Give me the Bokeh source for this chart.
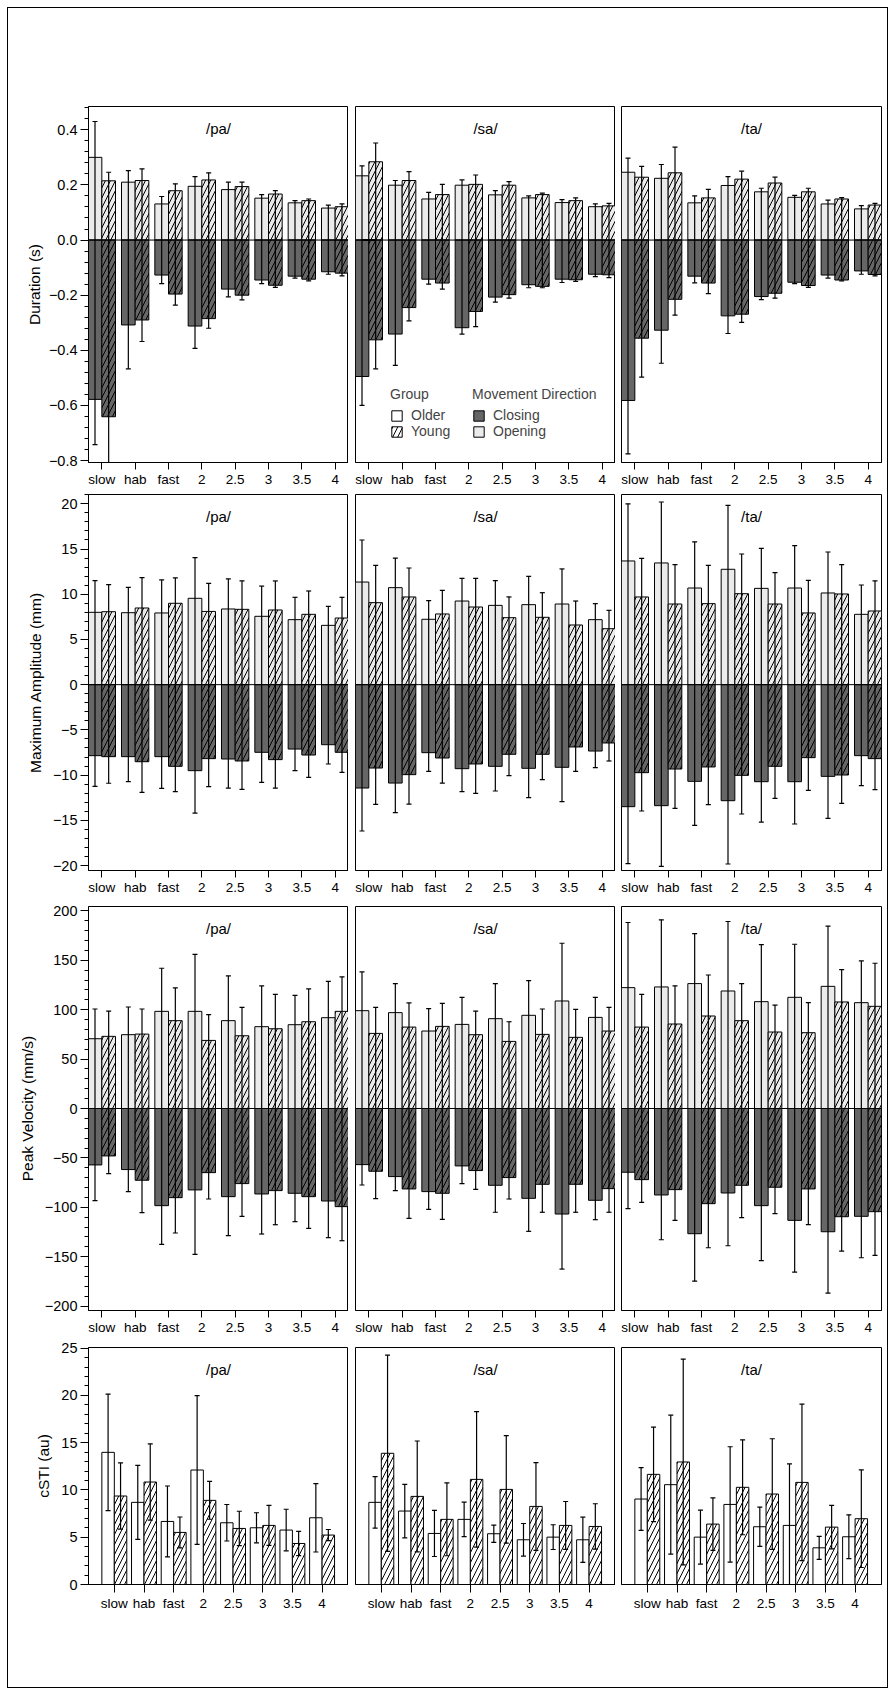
import json
from bokeh.plotting import figure
from bokeh.layouts import column, row
from bokeh.models import (ColumnDataSource, Range1d, FixedTicker, SingleIntervalTicker,
                          CustomJSTickFormatter, Span, Label, Legend, LegendItem, Title)
from bokeh.embed import file_html
from bokeh.resources import INLINE

# ---------------- data ----------------
categories = ["slow", "hab", "fast", "2", "2.5", "3", "3.5", "4"]
syllables = ["/pa/", "/sa/", "/ta/"]

# Duration (s): rows = /pa/, /sa/, /ta/
dur_open_old = [[0.30, 0.21, 0.131, 0.195, 0.183, 0.152, 0.135, 0.116],
                [0.233, 0.199, 0.149, 0.199, 0.164, 0.153, 0.136, 0.121],
                [0.246, 0.224, 0.135, 0.198, 0.175, 0.155, 0.131, 0.113]]
dur_open_old_sd = [[0.13, 0.042, 0.027, 0.035, 0.027, 0.013, 0.008, 0.011],
                   [0.036, 0.017, 0.024, 0.019, 0.015, 0.007, 0.011, 0.010],
                   [0.051, 0.050, 0.025, 0.032, 0.013, 0.007, 0.014, 0.012]]
dur_open_young = [[0.215, 0.216, 0.179, 0.218, 0.194, 0.167, 0.143, 0.121],
                  [0.284, 0.216, 0.165, 0.202, 0.199, 0.165, 0.143, 0.124],
                  [0.228, 0.244, 0.153, 0.221, 0.207, 0.175, 0.149, 0.127]]
dur_open_young_sd = [[0.031, 0.042, 0.025, 0.026, 0.016, 0.012, 0.006, 0.010],
                     [0.068, 0.032, 0.037, 0.034, 0.013, 0.005, 0.010, 0.009],
                     [0.039, 0.093, 0.031, 0.029, 0.021, 0.013, 0.005, 0.006]]
dur_close_old = [[-0.578, -0.308, -0.127, -0.312, -0.178, -0.145, -0.131, -0.115],
                 [-0.495, -0.341, -0.142, -0.318, -0.207, -0.162, -0.142, -0.124],
                 [-0.582, -0.327, -0.131, -0.275, -0.205, -0.153, -0.127, -0.112]]
dur_close_old_sd = [[0.164, 0.159, 0.031, 0.081, 0.028, 0.013, 0.007, 0.009],
                    [0.105, 0.114, 0.018, 0.023, 0.018, 0.011, 0.012, 0.009],
                    [0.194, 0.120, 0.024, 0.064, 0.011, 0.005, 0.011, 0.012]]
dur_close_young = [[-0.641, -0.29, -0.196, -0.285, -0.20, -0.164, -0.142, -0.12],
                   [-0.362, -0.245, -0.156, -0.259, -0.198, -0.168, -0.144, -0.126],
                   [-0.356, -0.215, -0.156, -0.269, -0.193, -0.165, -0.145, -0.125]]
dur_close_young_sd = [[0.22, 0.078, 0.040, 0.035, 0.017, 0.008, 0.006, 0.010],
                      [0.105, 0.048, 0.022, 0.055, 0.013, 0.005, 0.006, 0.010],
                      [0.141, 0.057, 0.038, 0.030, 0.018, 0.007, 0.003, 0.005]]

# Maximum Amplitude (mm)
amp_open_old = [[8.0, 7.96, 7.93, 9.55, 8.37, 7.56, 7.19, 6.56],
                [11.35, 10.73, 7.23, 9.25, 8.77, 8.85, 8.92, 7.19],
                [13.68, 13.46, 10.69, 12.76, 10.65, 10.69, 10.14, 7.78]]
amp_open_old_sd = [[3.5, 2.8, 3.65, 4.5, 3.32, 3.34, 2.47, 2.1],
                   [4.65, 3.27, 2.06, 2.51, 2.73, 3.13, 3.88, 1.77],
                   [6.32, 6.74, 5.11, 7.07, 4.43, 4.68, 4.53, 3.24]]
amp_open_young = [[8.07, 8.48, 9.0, 8.1, 8.33, 8.26, 7.78, 7.37],
                  [9.07, 9.7, 7.82, 8.59, 7.41, 7.45, 6.6, 6.19],
                  [9.7, 8.92, 8.96, 10.06, 8.92, 7.93, 10.03, 8.15]]
amp_open_young_sd = [[2.99, 3.35, 2.8, 3.1, 3.14, 3.21, 2.58, 2.29],
                     [4.13, 3.2, 2.61, 3.17, 2.29, 2.72, 2.65, 2.03],
                     [4.27, 4.35, 4.24, 4.39, 3.47, 3.61, 3.24, 3.32]]
amp_close_old = [[-7.85, -7.96, -7.96, -9.51, -8.22, -7.48, -7.12, -6.64],
                 [-11.43, -10.88, -7.52, -9.29, -9.03, -9.25, -9.14, -7.34],
                 [-13.49, -13.38, -10.69, -12.83, -10.73, -10.73, -10.14, -7.85]]
amp_close_old_sd = [[3.39, 2.77, 3.51, 4.69, 3.21, 3.32, 2.39, 2.13],
                    [4.75, 3.28, 2.07, 2.54, 2.73, 3.25, 3.8, 1.84],
                    [6.31, 6.72, 4.87, 7.0, 4.46, 4.68, 4.64, 3.32]]
amp_close_young = [[-7.96, -8.52, -9.03, -8.18, -8.44, -8.29, -7.78, -7.48],
                   [-9.22, -9.95, -8.11, -8.77, -7.7, -7.7, -6.89, -6.45],
                   [-9.73, -9.33, -9.1, -10.03, -9.03, -8.07, -9.99, -8.18]]
amp_close_young_sd = [[2.94, 3.38, 2.8, 3.1, 3.14, 3.14, 2.47, 2.22],
                      [4.02, 3.25, 2.77, 3.25, 2.36, 2.8, 2.7, 1.99],
                      [4.24, 4.35, 4.17, 4.27, 3.54, 3.62, 3.13, 3.43]]

# Peak Velocity (mm/s)
vel_open_old = [[70.6, 74.7, 98.3, 98.3, 88.9, 82.8, 84.8, 91.9],
                [99.0, 97.0, 78.4, 85.1, 90.9, 94.3, 108.8, 92.2],
                [122.3, 123.0, 126.4, 118.9, 108.1, 112.5, 123.6, 107.1]]
vel_open_old_sd = [[30.1, 28.0, 43.6, 57.7, 45.2, 41.2, 29.7, 36.8],
                   [39.2, 29.4, 22.6, 27.4, 35.5, 35.1, 58.4, 20.3],
                   [65.9, 67.9, 50.6, 70.3, 57.8, 53.7, 60.9, 42.2]]
vel_open_young = [[73.0, 75.3, 88.9, 68.9, 73.6, 80.7, 87.8, 98.3],
                  [76.0, 82.4, 83.1, 74.7, 67.9, 75.0, 72.0, 78.4],
                  [82.4, 85.5, 93.6, 88.9, 77.4, 76.7, 107.8, 103.4]]
vel_open_young_sd = [[25.6, 25.4, 33.1, 26.0, 28.8, 34.8, 33.2, 34.8],
                     [26.4, 24.4, 23.3, 23.9, 19.9, 25.7, 28.3, 24.0],
                     [33.1, 38.5, 41.5, 37.5, 27.3, 30.4, 32.7, 43.6]]
vel_close_old = [[-57.1, -61.8, -98.3, -82.4, -89.2, -86.5, -85.8, -93.6],
                 [-56.8, -68.9, -84.1, -58.1, -77.7, -90.9, -106.8, -92.9],
                 [-64.5, -87.5, -126.7, -85.5, -98.3, -113.2, -124.7, -109.1]]
vel_close_old_sd = [[36.1, 22.3, 39.2, 65.2, 39.5, 40.5, 28.7, 37.1],
                    [20.6, 14.2, 17.9, 17.9, 27.3, 33.4, 55.7, 19.6],
                    [36.9, 45.3, 48.0, 53.4, 55.7, 52.3, 62.1, 41.9]]
vel_close_young = [[-48.0, -72.6, -90.2, -64.9, -76.0, -83.1, -89.2, -99.3],
                   [-63.5, -81.4, -85.8, -62.8, -69.9, -76.7, -76.7, -81.1],
                   [-72.0, -82.1, -96.3, -77.7, -79.7, -81.4, -109.5, -104.4]]
vel_close_young_sd = [[17.9, 32.8, 35.8, 26.7, 33.1, 34.5, 32.1, 34.5],
                      [27.7, 29.7, 26.4, 19.0, 21.7, 28.3, 28.3, 23.9],
                      [22.9, 31.1, 44.6, 32.8, 26.7, 36.2, 34.8, 44.2]]

# cSTI (au)
csti_old = [[13.98, 8.69, 6.67, 12.11, 6.53, 6.0, 5.76, 7.06],
            [8.69, 7.77, 5.4, 6.89, 5.37, 4.73, 5.01, 4.73],
            [9.04, 10.56, 5.01, 8.47, 6.11, 6.25, 3.88, 5.05]]
csti_old_sd = [[6.16, 3.92, 3.75, 7.86, 1.93, 1.59, 2.2, 3.62],
               [2.72, 2.83, 2.44, 1.82, 0.92, 1.72, 1.31, 2.39],
               [3.32, 7.35, 2.85, 6.1, 2.08, 6.5, 1.22, 2.32]]
csti_young = [[9.36, 10.84, 5.51, 8.9, 5.93, 6.25, 4.34, 5.23],
              [13.88, 9.32, 6.89, 11.12, 10.06, 8.26, 6.25, 6.14],
              [11.65, 12.96, 6.39, 10.28, 9.57, 10.8, 6.07, 6.96]]
csti_young_sd = [[3.5, 4.03, 1.63, 2.0, 1.82, 2.12, 1.29, 0.59],
                 [10.38, 5.86, 3.85, 7.17, 5.69, 4.64, 2.53, 2.4],
                 [5.0, 10.89, 2.77, 5.02, 5.85, 8.27, 2.3, 5.16]]

# ---------------- style / layout ----------------
FONT = "Liberation Sans"
LIGHT = "#ebebeb"
DARK = "#666666"
HATCH = dict(hatch_pattern="/", hatch_color="black", hatch_scale=10, hatch_weight=1)
TICK_FS = "14.5px"
XTICK_FS = "13.5px"
LABEL_FS = "15.5px"
TITLE_FS = "15px"

positions = list(range(1, len(categories) + 1))
X_CODE = ("const L = %s; const i = Math.round(tick) - 1;"
          " return (i >= 0 && i < L.length) ? L[i] : '';") % json.dumps(categories)

COL_W = [340, 267, 272]
COL_BL = [80, 7, 6]
COL_BR = [0, 0, 6]


def base_fig(c, height, mbt, mbb, xr, yr, ylabel, step, dec, label_shift=0):
    show_y = (c == 0)
    p = figure(width=COL_W[c], height=height,
               x_range=Range1d(*xr), y_range=Range1d(*yr),
               output_backend="svg", toolbar_location=None, title=None,
               y_axis_location="left" if show_y else None,
               min_border_left=COL_BL[c], min_border_right=COL_BR[c],
               min_border_top=mbt, min_border_bottom=mbb)
    p.grid.visible = False
    p.outline_line_color = "black"
    p.outline_line_width = 1
    p.background_fill_color = "white"
    p.border_fill_color = "white"

    ax = p.xaxis[0]
    ax.ticker = FixedTicker(ticks=positions, minor_ticks=[])
    ax.formatter = CustomJSTickFormatter(code=X_CODE)
    ax.major_tick_out = 7
    ax.major_tick_in = 0
    ax.major_tick_line_color = "black"
    ax.minor_tick_line_color = None
    ax.axis_line_color = "black"
    ax.major_label_text_font = FONT
    ax.major_label_text_font_size = XTICK_FS
    ax.major_label_text_color = "black"
    ax.major_label_standoff = 2

    if show_y:
        ay = p.yaxis[0]
        ay.ticker = SingleIntervalTicker(interval=step, num_minor_ticks=5)
        ay.formatter = CustomJSTickFormatter(
            code="return tick.toFixed(%d).replace('-', '\\u2212');" % dec)
        ay.major_tick_out = 8
        ay.major_tick_in = 0
        ay.minor_tick_out = 4
        ay.minor_tick_in = 0
        ay.major_tick_line_color = "black"
        ay.minor_tick_line_color = "black"
        ay.axis_line_color = "black"
        ay.major_label_text_font = FONT
        ay.major_label_text_font_size = TICK_FS
        ay.major_label_text_color = "black"
        ay.major_label_standoff = 3
        if label_shift:
            # the reference draws this axis title above the frame centre:
            # use a side Title, which can be offset along the axis
            p.add_layout(Title(text=ylabel, align="center", offset=label_shift,
                               standoff=6, text_font=FONT, text_font_size=LABEL_FS,
                               text_font_style="normal", text_color="black"), "left")
        else:
            ay.axis_label = ylabel
            ay.axis_label_text_font = FONT
            ay.axis_label_text_font_size = LABEL_FS
            ay.axis_label_text_font_style = "normal"
            ay.axis_label_text_color = "black"
            ay.axis_label_standoff = 6
    return p


def add_title(p, text, xr, frame_h):
    p.add_layout(Label(x=(xr[0] + xr[1]) / 2, y=frame_h - 22, y_units="screen",
                       text=text, text_align="center", text_baseline="middle",
                       text_font=FONT, text_font_size=TITLE_FS, text_color="black"))


def add_err(p, src, xcol, ycol0, ycol1):
    p.segment(x0=xcol, y0=ycol0, x1=xcol, y1=ycol1, source=src,
              line_color="black", line_width=1.2)
    p.scatter(x=xcol, y=ycol1, marker="dash", size=5, source=src,
              line_color="black", line_width=1.2)


measures = [
    dict(label="Duration (s)", yr=(-0.807, 0.4845), step=0.2, dec=1,
         h=484, t=98, b=30, label_shift=31,
         data=(dur_open_old, dur_open_old_sd, dur_open_young, dur_open_young_sd,
               dur_close_old, dur_close_old_sd, dur_close_young, dur_close_young_sd)),
    dict(label="Maximum Amplitude (mm)", yr=(-20.55, 21.03), step=5, dec=0,
         h=408, t=2, b=30, label_shift=0,
         data=(amp_open_old, amp_open_old_sd, amp_open_young, amp_open_young_sd,
               amp_close_old, amp_close_old_sd, amp_close_young, amp_close_young_sd)),
    dict(label="Peak Velocity (mm/s)", yr=(-204.4, 204.4), step=50, dec=0,
         h=440, t=6, b=30, label_shift=0,
         data=(vel_open_old, vel_open_old_sd, vel_open_young, vel_open_young_sd,
               vel_close_old, vel_close_old_sd, vel_close_young, vel_close_young_sd)),
]

BW = 0.41
XR = (0.6, 8.4)
rows = []
for mi, m in enumerate(measures):
    oo, oos, oy, oys, co, cos, cy, cys = m["data"]
    frame_h = m["h"] - m["t"] - m["b"]
    figs = []
    for j, syl in enumerate(syllables):
        p = base_fig(j, m["h"], m["t"], m["b"], XR, m["yr"], m["label"], m["step"], m["dec"],
                     m["label_shift"])
        src = ColumnDataSource(dict(
            xo=[k - BW / 2 for k in positions], xy=[k + BW / 2 for k in positions],
            oo=oo[j], oy=oy[j], co=co[j], cy=cy[j],
            oo_hi=[a + s for a, s in zip(oo[j], oos[j])],
            oy_hi=[a + s for a, s in zip(oy[j], oys[j])],
            co_lo=[a - s for a, s in zip(co[j], cos[j])],
            cy_lo=[a - s for a, s in zip(cy[j], cys[j])],
            zero=[0] * len(positions),
        ))
        p.vbar(x="xo", top="oo", bottom=0, width=BW, source=src,
               fill_color=LIGHT, line_color="black", line_width=1)
        p.vbar(x="xy", top="oy", bottom=0, width=BW, source=src,
               fill_color=LIGHT, line_color="black", line_width=1, **HATCH)
        p.vbar(x="xo", top=0, bottom="co", width=BW, source=src,
               fill_color=DARK, line_color="black", line_width=1)
        p.vbar(x="xy", top=0, bottom="cy", width=BW, source=src,
               fill_color=DARK, line_color="black", line_width=1, **HATCH)
        p.add_layout(Span(location=0, dimension="width", line_color="black", line_width=1))
        add_err(p, src, "xo", "zero", "oo_hi")
        add_err(p, src, "xy", "zero", "oy_hi")
        add_err(p, src, "xo", "zero", "co_lo")
        add_err(p, src, "xy", "zero", "cy_lo")
        add_title(p, syl, XR, frame_h)

        if mi == 0 and j == 1:
            # zero-height proxy bars (sitting on the zero line) used only as legend glyphs
            proxy = ColumnDataSource(dict(x=positions[:1], zero=[0]))
            kw = dict(x="x", top="zero", bottom="zero", width=BW, source=proxy, line_color="black")
            r_old = p.vbar(fill_color="white", **kw)
            r_young = p.vbar(fill_color="white", **kw, **HATCH)
            r_close = p.vbar(fill_color=DARK, **kw)
            r_open = p.vbar(fill_color=LIGHT, **kw)
            for title, items, loc in (
                    ("Group", [("Older", r_old), ("Young", r_young)], (35, 23)),
                    ("Movement Direction", [("Closing", r_close), ("Opening", r_open)], (117, 23))):
                leg = Legend(items=[LegendItem(label=lab, renderers=[r]) for lab, r in items],
                             title=title, location=loc, orientation="vertical",
                             padding=0, margin=0, spacing=0,
                             glyph_width=13, glyph_height=13, label_height=13,
                             label_standoff=8, title_standoff=5,
                             border_line_color=None, background_fill_alpha=0,
                             label_text_font=FONT, label_text_font_size="14px",
                             title_text_font=FONT, title_text_font_size="14px",
                             title_text_font_style="normal")
                p.add_layout(leg)
        figs.append(p)
    rows.append(row(*figs))

# cSTI row
BW4 = 0.42
XR4 = (0.13, 8.89)
H4, T4, B4 = 347, 7, 103
figs = []
for j, syl in enumerate(syllables):
    p = base_fig(j, H4, T4, B4, XR4, (0, 25.07), "cSTI (au)", 5, 0)
    p.xaxis[0].major_tick_out = 8
    p.xaxis[0].major_label_standoff = 3
    src = ColumnDataSource(dict(
        xo=[k - BW4 / 2 for k in positions], xy=[k + BW4 / 2 for k in positions],
        old=csti_old[j], young=csti_young[j],
        old_lo=[a - s for a, s in zip(csti_old[j], csti_old_sd[j])],
        old_hi=[a + s for a, s in zip(csti_old[j], csti_old_sd[j])],
        young_lo=[a - s for a, s in zip(csti_young[j], csti_young_sd[j])],
        young_hi=[a + s for a, s in zip(csti_young[j], csti_young_sd[j])],
    ))
    p.vbar(x="xo", top="old", bottom=0, width=BW4, source=src,
           fill_color="white", line_color="black", line_width=1)
    p.vbar(x="xy", top="young", bottom=0, width=BW4, source=src,
           fill_color="white", line_color="black", line_width=1, **HATCH)
    for xc, lo, hi in (("xo", "old_lo", "old_hi"), ("xy", "young_lo", "young_hi")):
        p.segment(x0=xc, y0=lo, x1=xc, y1=hi, source=src, line_color="black", line_width=1.2)
        p.scatter(x=xc, y=lo, marker="dash", size=5, source=src, line_color="black", line_width=1.2)
        p.scatter(x=xc, y=hi, marker="dash", size=5, source=src, line_color="black", line_width=1.2)
    add_title(p, syl, XR4, H4 - T4 - B4)
    figs.append(p)
rows.append(row(*figs))

layout = column(*rows, margin=(8, 8, 8, 8),
                styles={"box-shadow": "0 0 0 1px black"})

with open("out.html", "w", encoding="utf-8") as f:
    f.write(file_html(layout, INLINE))
